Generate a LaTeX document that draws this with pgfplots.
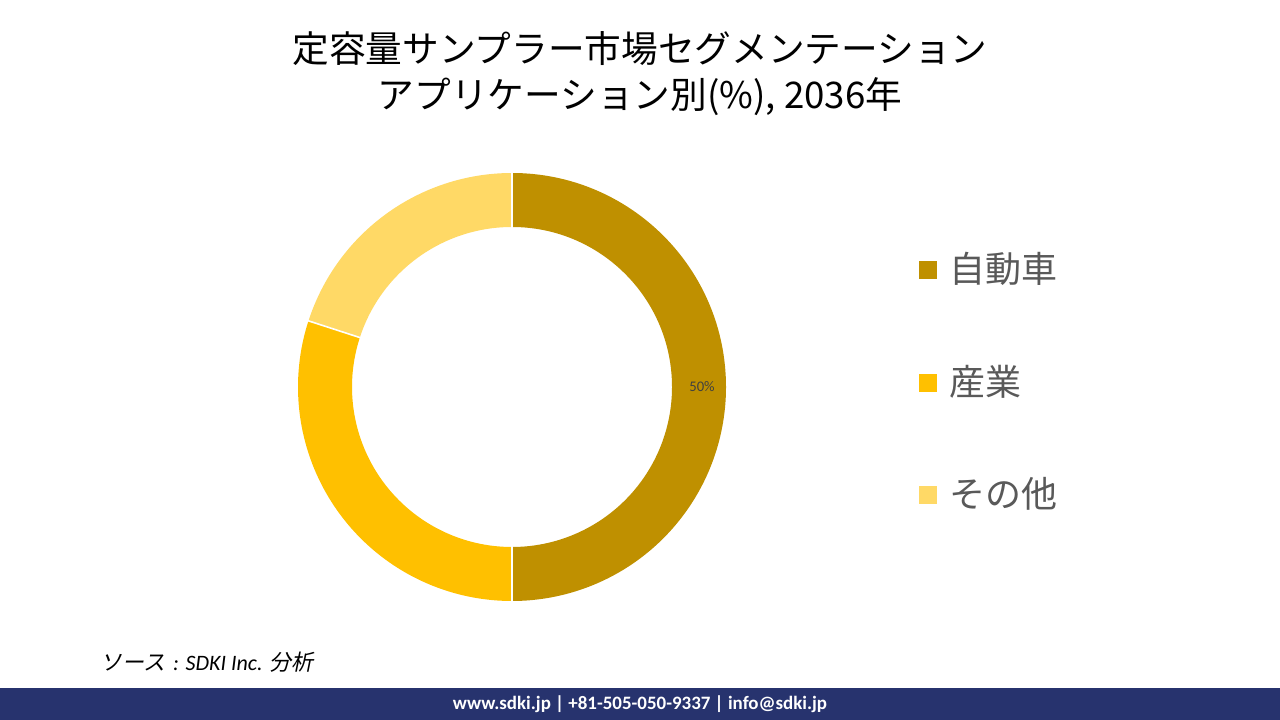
\documentclass[border=0pt]{standalone}
\usepackage{pgfplots}
\pgfplotsset{compat=1.18}
\usepackage{fontspec}
\setmainfont{Carlito}
\newfontfamily\cjk{Noto Sans CJK JP}
\newfontfamily\cjkit{Noto Sans CJK JP}[FakeSlant=0.2]
\definecolor{autoC}{HTML}{BF9000}
\definecolor{indC}{HTML}{FFC000}
\definecolor{othC}{HTML}{FFD966}
\definecolor{legtext}{HTML}{595959}
\definecolor{footer}{HTML}{27336E}
% #1 = cumulative percent before the segment, #2 = segment percent, #3 = colour
\newcommand{\donutseg}[3]{%
  \draw[#3, line width=40.5pt] (axis cs:512,333) ++({90-3.6*(#1)}:140.25pt)
    arc[start angle={90-3.6*(#1)}, delta angle={-3.6*(#2)}, radius=140.25pt];}
\newcommand{\donutsep}[1]{%
  \draw[white, line width=1.2pt] (axis cs:512,333) ++({90-3.6*(#1)}:119.5pt) -- ++({90-3.6*(#1)}:41.5pt);}
\begin{document}
\begin{tikzpicture}
\begin{axis}[
  at={(0,0)}, anchor=south west,
  scale only axis, width=960pt, height=540pt,
  xmin=0, xmax=1280, ymin=0, ymax=720,
  hide axis, clip=false]
\path (axis cs:0,0) rectangle (axis cs:1280,720);
% footer band
\fill[footer] (axis cs:0,0) rectangle (axis cs:1280,32);
\node[text=white, font=\bfseries\fontsize{14.2}{16}\selectfont] at (axis cs:640,16) {www.sdki.jp | +81-505-050-9337 | info@sdki.jp};
% donut: 自動車 50, 産業 30, その他 20
\donutseg{0}{50}{autoC}
\donutseg{50}{30}{indC}
\donutseg{80}{20}{othC}
\donutsep{0}
\donutsep{50}
\donutsep{80}
\node[text=black!75, font=\fontsize{11}{13}\selectfont] at (axis cs:702,333) {50\%};
% title
\node[font=\cjk\fontsize{27.5}{35}\selectfont, align=center] at (axis cs:640,646.5)
  {定容量サンプラー市場セグメンテーション\\アプリケーション別(\%), 2036年};
% legend
\fill[autoC] (axis cs:919,441) rectangle (axis cs:937,459);
\fill[indC]  (axis cs:919,328) rectangle (axis cs:937,346);
\fill[othC]  (axis cs:919,216) rectangle (axis cs:937,234);
\node[anchor=west, text=legtext, font=\cjk\fontsize{27}{30}\selectfont, inner sep=0pt] at (axis cs:949,451) {自動車};
\node[anchor=west, text=legtext, font=\cjk\fontsize{27}{30}\selectfont, inner sep=0pt] at (axis cs:949,338) {産業};
\node[anchor=west, text=legtext, font=\cjk\fontsize{27}{30}\selectfont, inner sep=0pt] at (axis cs:949,226) {その他};
% source
\node[anchor=west, inner sep=0pt, font=\fontsize{16.5}{18}\selectfont] at (axis cs:100,58)
  {{\cjkit ソース}\hspace{6pt}\textit{: SDKI Inc.}\hspace{5pt}{\cjkit 分析}};
\end{axis}
\end{tikzpicture}
\end{document}
